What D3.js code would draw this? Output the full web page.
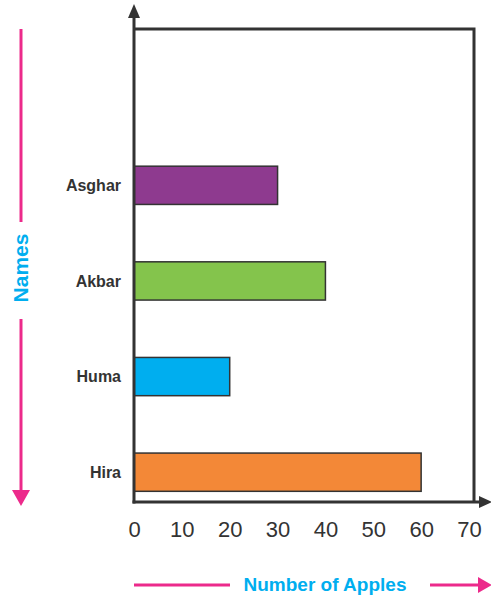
<!DOCTYPE html>
<html>
<head>
<meta charset="utf-8">
<script src="https://cdn.jsdelivr.net/npm/d3@7"></script>
<style>
html,body{margin:0;padding:0;background:#fff;}
svg{display:block;font-family:"Liberation Sans",Arial,sans-serif;}
</style>
</head>
<body>
<svg id="chart" width="491" height="596"></svg>
<script>
const names = ["Asghar", "Akbar", "Huma", "Hira"];
const apples = [30, 40, 20, 60];
const barColors = ["#8e3a8f", "#84c44c", "#00aeef", "#f38837"];
const tickValues = [0, 10, 20, 30, 40, 50, 60, 70];
const xTitle = "Number of Apples";
const yTitle = "Names";

const svg = d3.select("#chart");
const dark = "#333333";
const pink = "#ec2a8b";
const blue = "#00aeef";

const x = d3.scaleLinear().domain([0, 70]).range([134, 469]);
const y = d3.scaleBand().domain(names).range([137.5, 520]).paddingInner(0.6).paddingOuter(0.3);

const pLeft = 134, pBottom = 502, pTop = 29, pRight = 474;

// box top and right
svg.append("path")
  .attr("d", `M${pLeft},${pTop}H${pRight}V${pBottom}`)
  .attr("fill", "none").attr("stroke", dark).attr("stroke-width", 3);

// bars
svg.selectAll("rect.bar").data(names).enter().append("rect")
  .attr("class", "bar")
  .attr("x", x(0))
  .attr("y", d => y(d))
  .attr("width", (d, i) => x(apples[i]) - x(0))
  .attr("height", y.bandwidth())
  .attr("fill", (d, i) => barColors[i])
  .attr("stroke", dark).attr("stroke-width", 1.5);

// axes lines
svg.append("line").attr("x1", pLeft).attr("x2", pLeft).attr("y1", pBottom + 1.5).attr("y2", 14)
  .attr("stroke", dark).attr("stroke-width", 3);
svg.append("path").attr("d", `M${pLeft},4 L${pLeft - 6},18 L${pLeft + 6},18 Z`).attr("fill", dark);
svg.append("line").attr("x1", pLeft - 1.5).attr("x2", 482).attr("y1", pBottom).attr("y2", pBottom)
  .attr("stroke", dark).attr("stroke-width", 3);
svg.append("path").attr("d", `M492,${pBottom} L479,${pBottom - 6} L479,${pBottom + 6} Z`).attr("fill", dark);

// x tick labels
const xAxis = d3.axisBottom(x).tickValues(tickValues).tickSize(0).tickPadding(0);
const xg = svg.append("g").attr("transform", `translate(0,${pBottom})`).call(xAxis);
xg.select(".domain").remove();
xg.selectAll("text")
  .attr("y", 35).attr("dy", 0)
  .attr("font-size", 22).attr("fill", dark)
  .attr("font-family", "'Liberation Sans', Arial, sans-serif");

// y labels
const yAxis = d3.axisLeft(y).tickSize(0).tickPadding(0);
const yg = svg.append("g").attr("transform", `translate(121,0)`).call(yAxis);
yg.select(".domain").remove();
yg.selectAll("text")
  .attr("x", 0).attr("dy", "0.35em")
  .attr("font-size", 16).attr("font-weight", "bold").attr("fill", dark)
  .attr("font-family", "'Liberation Sans', Arial, sans-serif");

// x title with pink arrow
svg.append("line").attr("x1", 134).attr("x2", 230).attr("y1", 585).attr("y2", 585)
  .attr("stroke", pink).attr("stroke-width", 3);
svg.append("line").attr("x1", 430).attr("x2", 480).attr("y1", 585).attr("y2", 585)
  .attr("stroke", pink).attr("stroke-width", 3);
svg.append("path").attr("d", `M492,585 L478,577 L478,593 Z`).attr("fill", pink);
svg.append("text").attr("x", 325).attr("y", 591).attr("text-anchor", "middle")
  .attr("font-size", 19).attr("font-weight", "bold").attr("fill", blue).text(xTitle);

// y title with pink arrow
svg.append("line").attr("x1", 21).attr("x2", 21).attr("y1", 29).attr("y2", 222)
  .attr("stroke", pink).attr("stroke-width", 3);
svg.append("line").attr("x1", 21).attr("x2", 21).attr("y1", 319).attr("y2", 492)
  .attr("stroke", pink).attr("stroke-width", 3);
svg.append("path").attr("d", `M21,506 L12,490 L30,490 Z`).attr("fill", pink);
svg.append("text").attr("transform", "translate(28,268) rotate(-90)").attr("text-anchor", "middle")
  .attr("font-size", 21).attr("font-weight", "bold").attr("fill", blue).text(yTitle);
</script>
</body>
</html>
